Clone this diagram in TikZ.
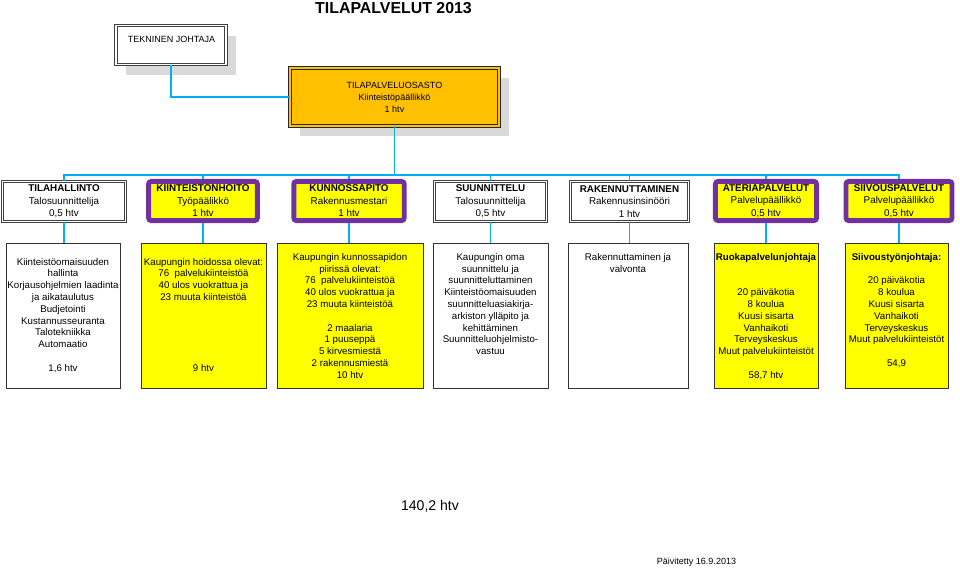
\documentclass[tikz,border=0pt]{standalone}
\usepackage{fontspec}
\setmainfont{Liberation Sans}
\usetikzlibrary{positioning,shadows}
\definecolor{linecyan}{RGB}{0,176,240}
\definecolor{headorange}{RGB}{255,192,0}
\definecolor{unityellow}{RGB}{255,255,0}
\definecolor{unitpurple}{RGB}{112,48,160}
\definecolor{shadowgray}{RGB}{217,217,217}

\begin{document}
\begin{tikzpicture}[
    x=0.025cm, y=-0.025cm,
    conn/.style={draw=linecyan, line width=1.4pt},
    unittext/.style={inner sep=0pt, align=center, font=\fontsize{7}{8.9}\selectfont, execute at begin node={\rule{0pt}{6.4pt}}},
    whitebox/.style={unittext, draw=black!75, line width=0.5pt, double=white, double distance=1.3pt, fill=white},
    purplebox/.style={unittext, draw=unitpurple, line width=3.5pt, fill=unityellow, rounded corners=2pt,
                      execute at begin node={\rule{0pt}{8.2pt}}},
    listbox/.style={draw=black!80, line width=0.6pt, minimum height=3.625cm, inner sep=0pt},
    listtext/.style={align=center, inner sep=0pt, anchor=north, font=\fontsize{6.9}{8.4}\selectfont},
    boxshadow/.style={drop shadow={shadow xshift=0.24cm, shadow yshift=-0.26cm, fill=shadowgray, opacity=1}}
]

% Page
\fill[white] (0,0) rectangle (960,567);
\useasboundingbox (0,0) rectangle (960,567);

% Title
\node[font=\fontsize{11.3}{13}\selectfont\bfseries, inner sep=0pt] (TITLE) at (393.5,8.5) {TILAPALVELUT 2013};

% Top management
\node[draw=black!75, line width=0.5pt, double=white, double distance=1.3pt, fill=white, boxshadow,
      minimum width=2.75cm, minimum height=0.975cm] (TJ) at (171,45) {};
\node[font=\fontsize{6.4}{8}\selectfont, inner sep=0pt] (TJtext) at (171.5,39) {TEKNINEN JOHTAJA};

\node[draw=black!85, line width=0.5pt, double=headorange, double distance=1.4pt, fill=headorange, boxshadow,
      minimum width=5.225cm, minimum height=1.45cm, inner sep=0pt, align=center,
      font=\fontsize{6.4}{8.5}\selectfont] (ORG) at (394.5,97) {
    TILAPALVELUOSASTO\\
    Kiinteistöpäällikkö\\
    1 htv
};

% Units
\node[whitebox, minimum width=3.075cm, minimum height=1cm] (TH) at (64,201.5) {
    \textbf{TILAHALLINTO}\\ Talosuunnittelija\\ 0,5 htv};
\node[purplebox, minimum width=2.72cm, minimum height=0.98cm] (KH) at (203,201) {
    \textbf{KIINTEISTONHOITO}\\ Työpäälikkö\\ 1 htv};
\node[purplebox, minimum width=2.76cm, minimum height=0.98cm] (KP) at (349,201) {
    \textbf{KUNNOSSAPITO}\\ Rakennusmestari\\ 1 htv};
\node[whitebox, minimum width=2.8cm, minimum height=1cm] (SU) at (490.5,201.5) {
    \textbf{SUUNNITTELU}\\ Talosuunnittelija\\ 0,5 htv};
\node[whitebox, minimum width=2.95cm, minimum height=1cm] (RA) at (629.5,201.5) {
    \textbf{RAKENNUTTAMINEN}\\ Rakennusinsinööri\\ 1 htv};
\node[purplebox, minimum width=2.53cm, minimum height=0.98cm] (AP) at (766,201) {
    \textbf{ATERIAPALVELUT}\\ Palvelupäällikkö\\ 0,5 htv};
\node[purplebox, minimum width=2.65cm, minimum height=0.98cm] (SP) at (899,201) {
    \textbf{SIIVOUSPALVELUT}\\ Palvelupäällikkö\\ 0,5 htv};

% Task boxes
\node[listbox, fill=white, minimum width=2.85cm] (B1) at (63,315.5) {};
\node[listbox, fill=unityellow, minimum width=3.125cm] (B2) at (203.5,315.5) {};
\node[listbox, fill=unityellow, minimum width=3.65cm] (B3) at (350,315.5) {};
\node[listbox, fill=white, minimum width=2.875cm] (B4) at (490.5,315.5) {};
\node[listbox, fill=white, minimum width=3cm] (B5) at (628,315.5) {};
\node[listbox, fill=unityellow, minimum width=2.6cm] (B6) at (766,315.5) {};
\node[listbox, fill=unityellow, minimum width=2.575cm] (B7) at (896.5,315.5) {};

\node[listtext, below=0.38cm of B1.north] (B1text) {
    Kiinteistöomaisuuden\\ hallinta\\ Korjausohjelmien laadinta\\ ja aikataulutus\\
    Budjetointi\\ Kustannusseuranta\\ Talotekniikka\\ Automaatio\\[8.4pt] 1,6 htv};
\node[listtext, below=0.38cm of B2.north] (B2text) {
    Kaupungin hoidossa olevat:\\ 76\ \ palvelukiinteistöä\\ 40 ulos vuokrattua ja\\
    23 muuta kiinteistöä\\[42pt] 9 htv};
\node[listtext, below=0.26cm of B3.north] (B3text) {
    Kaupungin kunnossapidon\\ piirissä olevat:\\ 76\ \ palvelukiinteistöä\\
    40 ulos vuokrattua ja\\ 23 muuta kiinteistöä\\[8.4pt] 2 maalaria\\ 1 puuseppä\\
    5 kirvesmiestä\\ 2 rakennusmiestä\\ 10 htv};
\node[listtext, below=0.26cm of B4.north] (B4text) {
    Kaupungin oma\\ suunnittelu ja\\ suunnitteluttaminen\\ Kiinteistöomaisuuden\\
    suunnitteluasiakirja-\\ arkiston ylläpito ja\\ kehittäminen\\
    Suunnitteluohjelmisto-\\ vastuu};
\node[listtext, below=0.26cm of B5.north] (B5text) {
    Rakennuttaminen ja\\ valvonta};
\node[listtext, below=0.26cm of B6.north] (B6text) {
    \textbf{Ruokapalvelunjohtaja}\\[16.8pt] 20 päiväkotia\\ 8 koulua\\ Kuusi sisarta\\
    Vanhaikoti\\ Terveyskeskus\\ Muut palvelukiinteistöt\\[8.4pt] 58,7 htv};
\node[listtext, below=0.26cm of B7.north] (B7text) {
    \textbf{Siivoustyönjohtaja:}\\[8.4pt] 20 päiväkotia\\ 8 koulua\\ Kuusi sisarta\\
    Vanhaikoti\\ Terveyskeskus\\ Muut palvelukiinteistöt\\[8.4pt] 54,9};

% Connectors
\coordinate (BUS) at (0,175);
\draw[conn] (TJ.south) |- (ORG.west);
\foreach \unit in {TH,KH,KP,SU,RA,AP,SP}
    \draw[conn] (ORG.south) -- (ORG.south |- BUS) -| (\unit.north);
\foreach \unit/\task in {TH/B1,KH/B2,KP/B3,SU/B4,RA/B5,AP/B6,SP/B7}
    \draw[conn] (\unit.south) -- (\unit.south |- \task.north);

% Totals
\node[font=\fontsize{10}{12}\selectfont, inner sep=0pt] (TOTAL) at (430,506.5) {140,2 htv};
\node[font=\fontsize{6.4}{8}\selectfont, inner sep=0pt, anchor=base] (DATE) at (696.5,564) {Päivitetty 16.9.2013};

\end{tikzpicture}
\end{document}
